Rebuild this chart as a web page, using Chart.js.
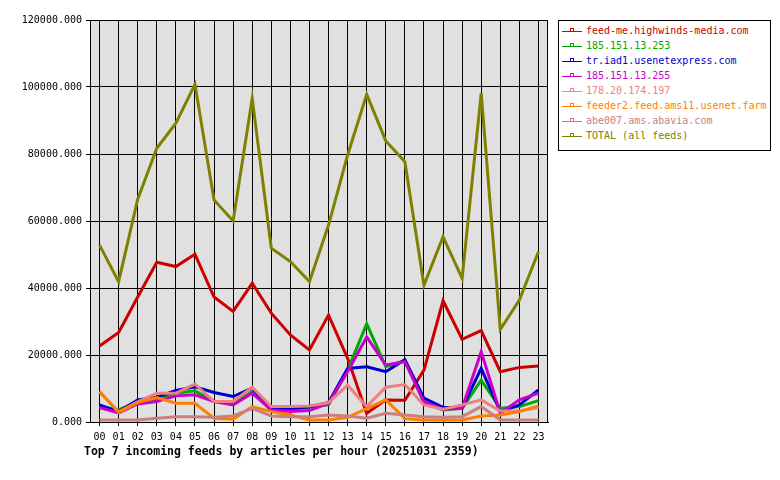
<!DOCTYPE html>
<html>
<head>
<meta charset="utf-8">
<title>Top 7 incoming feeds by articles per hour</title>
<script src="https://cdn.jsdelivr.net/npm/chart.js@4.4.1/dist/chart.umd.min.js"></script>
<style>
    body { margin: 0; background: #fff; }
    #wrap { position: relative; width: 780px; height: 480px; }
    #legend {
        position: absolute; left: 558px; top: 20px; width: 213px; height: 131px;
        box-sizing: border-box; border: 1px solid #000; background: #fff;
        padding-top: 2px; font: 10px "DejaVu Sans Mono", monospace;
    }
    .row { position: relative; height: 15px; line-height: 15px; padding-left: 27px; white-space: nowrap; }
    .row .ln { position: absolute; left: 3px; top: 8px; width: 20px; height: 1px; }
    .row .mk { position: absolute; left: 11px; top: 5px; width: 2px; height: 2px; border: 1px solid; border-bottom: none; }
</style>
</head>
<body>
<div id="wrap">
    <canvas id="feedChart" width="780" height="480"></canvas>
    <div id="legend"></div>
</div>
<script>
// 横轴：小时
const hours = ['00', '01', '02', '03', '04', '05', '06', '07', '08', '09', '10', '11',
               '12', '13', '14', '15', '16', '17', '18', '19', '20', '21', '22', '23'];

// 各 feed 名称和颜色
const feedNames = [
    'feed-me.highwinds-media.com',
    '185.151.13.253',
    'tr.iad1.usenetexpress.com',
    '185.151.13.255',
    '178.20.174.197',
    'feeder2.feed.ams11.usenet.farm',
    'abe007.ams.abavia.com',
    'TOTAL (all feeds)'
];
const feedColors = ['#cc0000', '#00aa00', '#0000cc', '#cc00cc', '#f08080', '#ff8000', '#c88080', '#808000'];

// 每小时文章数
const highwinds = [22700, 26700, 37300, 47700, 46400, 50100, 37300, 33000, 41400, 32500, 26000, 21500,
                   31900, 19000, 2600, 6600, 6500, 15500, 36200, 24700, 27300, 15000, 16300, 16700];
const feed253   = [4600, 3600, 6000, 6800, 8600, 9300, 6100, 5600, 9100, 3600, 3600, 4500,
                   5100, 15500, 29300, 16500, 18300, 5800, 3600, 4100, 12500, 4100, 4600, 6400];
const usenetexpress = [5100, 3100, 6600, 7400, 9400, 10500, 8800, 7600, 10100, 4200, 4100, 4500,
                   5800, 16000, 16500, 15000, 18600, 7100, 4400, 4100, 16000, 3100, 5100, 9600];
const feed255   = [4300, 2700, 5400, 6100, 7800, 8100, 6100, 5100, 8600, 3600, 3100, 3400,
                   5600, 15000, 25400, 17000, 18000, 6100, 3800, 4100, 21000, 2600, 6600, 8600];
const feed197   = [9000, 3000, 6000, 8600, 8600, 11300, 6100, 6100, 10400, 4600, 4600, 4800,
                   5800, 11000, 4600, 10400, 11200, 5100, 3800, 5100, 6600, 3300, 3300, 4300];
const ams11     = [9100, 2900, 5800, 7300, 5600, 5600, 1100, 800, 4600, 3100, 2100, 600,
                   600, 1400, 4000, 6600, 1000, 600, 600, 600, 1800, 2100, 3100, 4800];
const abavia    = [600, 600, 600, 1100, 1600, 1600, 1400, 1800, 4100, 1800, 1600, 1600,
                   2100, 1800, 1100, 2600, 2100, 1600, 1400, 1600, 4600, 600, 600, 600];
const total     = [52800, 41900, 66500, 81700, 89200, 100800, 66300, 60000, 96600, 51900, 47900, 41900,
                   58800, 79700, 97800, 83900, 77700, 40800, 55300, 42900, 98200, 27600, 36400, 50800];

// 纵轴刻度
const yMin = 0;
const yMax = 120000;
const yStep = 20000;

const titleText = 'Top 7 incoming feeds by articles per hour (20251031 2359)';
const seriesData = [highwinds, feed253, usenetexpress, feed255, feed197, ams11, abavia, total];

// 绘图区背景和边框
const plotFrame = {
    id: 'plotFrame',
    beforeDraw(chart) {
        const { ctx, chartArea: a } = chart;
        ctx.save();
        ctx.fillStyle = '#e0e0e0';
        ctx.fillRect(a.left, a.top, a.right - a.left, a.bottom - a.top);
        ctx.restore();
    },
    afterDraw(chart) {
        const { ctx, chartArea: a } = chart;
        ctx.save();
        ctx.strokeStyle = '#000';
        ctx.lineWidth = 1;
        ctx.strokeRect(a.left + 0.5, a.top + 0.5, a.right - a.left - 1, a.bottom - a.top);
        // 底部标题
        ctx.fillStyle = '#000';
        ctx.font = 'bold 11.5px "DejaVu Sans Mono", monospace';
        ctx.textBaseline = 'middle';
        ctx.textAlign = 'left';
        ctx.fillText(titleText, 84, 452);
        ctx.restore();
    }
};

const ctx = document.getElementById('feedChart').getContext('2d');
const feedChart = new Chart(ctx, {
    type: 'line',
    data: {
        labels: hours,
        datasets: seriesData.map((values, i) => ({
            label: feedNames[i],
            data: values,
            borderColor: feedColors[i],
            backgroundColor: feedColors[i],
            borderWidth: 3,
            pointRadius: 0,
            tension: 0,
            fill: false,
            order: seriesData.length - i
        }))
    },
    options: {
        responsive: false,
        animation: false,
        layout: { padding: { left: 0, right: 232, top: 20, bottom: 0 } },
        plugins: {
            legend: { display: false },
            tooltip: { enabled: false },
            title: { display: false }
        },
        scales: {
            x: {
                offset: true,
                grid: { color: '#000', offset: false, tickLength: 4, lineWidth: 1 },
                border: { color: '#000' },
                ticks: {
                    color: '#000',
                    padding: 5,
                    maxRotation: 0,
                    autoSkip: false,
                    font: { family: '"DejaVu Sans Mono", monospace', size: 10 }
                },
                afterFit(scale) { scale.height = 58; }
            },
            y: {
                min: yMin,
                max: yMax,
                grid: { color: '#000', tickLength: 4, lineWidth: 1 },
                border: { color: '#000' },
                ticks: {
                    stepSize: yStep,
                    color: '#000',
                    padding: 4,
                    font: { family: '"DejaVu Sans Mono", monospace', size: 10 },
                    callback: value => value.toFixed(3)
                },
                afterFit(scale) { scale.width = 90; }
            }
        }
    },
    plugins: [plotFrame]
});

// 图例
const legend = document.getElementById('legend');
feedNames.forEach((name, i) => {
    const row = document.createElement('div');
    row.className = 'row';
    row.style.color = feedColors[i];
    row.innerHTML = `<span class="ln" style="background:${feedColors[i]}"></span>` +
                    `<span class="mk" style="border-color:${feedColors[i]}"></span>${name}`;
    legend.appendChild(row);
});
</script>
</body>
</html>
